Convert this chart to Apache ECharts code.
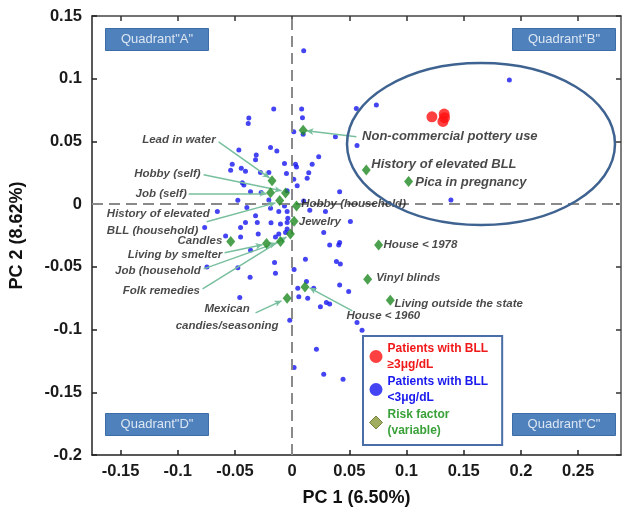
<!DOCTYPE html>
<html>
<head>
<meta charset="utf-8">
<script src="https://cdn.jsdelivr.net/npm/echarts@6/dist/echarts.min.js"></script>
<style>
html,body{margin:0;padding:0;background:#fff;}
#chart{width:629px;height:516px;}
</style>
</head>
<body>
<div id="chart"></div>
<script>
// ---- data ----
const xTicks = [-0.15, -0.1, -0.05, 0, 0.05, 0.1, 0.15, 0.2, 0.25];
const yTicks = [-0.2, -0.15, -0.1, -0.05, 0, 0.05, 0.1, 0.15];

const bluePoints = [
 [0.0101,0.1223],[0.1899,0.0989],[-0.0161,0.0758],[-0.0379,0.0686],[-0.0384,0.0643],
 [0.0083,0.0758],[0.0090,0.0688],[0.0561,0.0762],[0.0736,0.0790],[0.0014,0.0578],
 [0.0096,0.0558],[0.0378,0.0537],[0.0567,0.0467],[-0.0189,0.0451],[-0.0134,0.0423],
 [-0.0466,0.0431],[-0.0314,0.0391],[-0.0320,0.0353],[-0.0524,0.0319],[-0.0538,0.0271],
 [-0.0445,0.0287],[-0.0408,0.0263],[-0.0277,0.0252],[-0.0204,0.0252],[-0.0067,0.0324],
 [-0.0050,0.0244],[0.0029,0.0319],[0.0038,0.0297],[0.0232,0.0377],[0.0175,0.0319],
 [0.0145,0.0250],[0.0131,0.0207],[0.0014,0.0199],[0.0044,0.0146],[0.0415,0.0098],
 [-0.0436,0.0170],[-0.0422,0.0152],[-0.0364,0.0098],[-0.0271,0.0093],[-0.0044,0.0106],
 [-0.0475,0.0032],[-0.0204,0.0034],[0.1388,0.0034],[0.0101,0.0026],
 [-0.0396,-0.0027],[-0.0189,-0.0032],[-0.0117,-0.0059],[-0.0044,-0.0059],[-0.0654,-0.0059],
 [-0.0067,-0.0014],[0.0154,-0.0048],[0.0291,-0.0059],[-0.0320,-0.0093],[-0.0038,-0.0112],
 [-0.0408,-0.0147],[-0.0185,-0.0149],[-0.0102,-0.0159],[0.0509,-0.0139],[-0.0765,-0.0187],
 [-0.0305,-0.0147],[-0.0044,-0.0147],[-0.0451,-0.0187],[0.0276,-0.0226],[-0.0582,-0.0253],
 [-0.0451,-0.0261],[-0.0297,-0.0239],[-0.0146,-0.0261],[-0.0117,-0.0239],[-0.0058,-0.0226],
 [-0.0044,-0.0199],[0.0328,-0.0325],[0.0407,-0.0325],[0.0415,-0.0306],[-0.0364,-0.0367],
 [-0.0745,-0.0502],[-0.0475,-0.0508],[-0.0154,-0.0466],[-0.0146,-0.0550],[-0.0368,-0.0582],
 [0.0017,-0.0522],[0.0116,-0.0439],[0.0387,-0.0458],[0.0421,-0.0478],[0.0415,-0.0644],
 [0.0494,-0.0697],[0.0125,-0.0617],[0.0188,-0.0670],[0.0049,-0.0670],[0.0058,-0.0739],
 [0.0136,-0.0750],[-0.0458,-0.0745],[0.0247,-0.0819],[0.0299,-0.0785],[0.0328,-0.0797],
 [0.0567,-0.0944],[0.0611,-0.1005],[-0.0021,-0.0925],[0.0212,-0.1156],[0.0017,-0.1303],
 [0.0276,-0.1356],[0.0445,-0.1396]
];

const redPoints = [[0.1222,0.0696],[0.1329,0.0718],[0.1318,0.0659],[0.1332,0.0689]];

const riskNames = [
 'Non-commercial pottery use','History of elevated BLL','Pica in pregnancy','Hobby (household)',
 'Jewelry','House < 1978','Vinyl blinds','Living outside the state','House < 1960',
 'Mexican candies/seasoning','Lead in water','Hobby (self)','Job (self)',
 'History of elevated BLL (household)','Candles','Living by smelter','Job (household','Folk remedies'
];
const riskX = [0.0096,0.0648,0.1018,0.0038,0.0017,0.0756,0.0660,0.0858,0.0112,
               -0.0044,-0.0176,-0.0058,-0.0189,-0.0109,-0.0537,-0.0224,-0.0102,-0.0015];
const riskY = [0.0590,0.0273,0.0180,-0.0014,-0.0137,-0.0325,-0.0598,-0.0766,-0.0660,
               -0.0751,0.0186,0.0088,0.0090,0.0030,-0.0298,-0.0314,-0.0298,-0.0239];

const seriesNames = ['Patients with BLL\n≥3μg/dL','Patients with BLL\n<3μg/dL','Risk factor\n(variable)'];
const quadrantNames = ['Quadrant"A"','Quadrant"B"','Quadrant"C"','Quadrant"D"'];

// ---- annotation layout (label anchors and arrows, data units) ----
const bigLabel = {fontSize:13, fontWeight:'bold', fontStyle:'italic', fontFamily:'Liberation Sans, Arial, sans-serif', color:'#1a1a1a'};
const smallLabel = {fontSize:11.5, fontWeight:'bold', fontStyle:'italic', fontFamily:'Liberation Sans, Arial, sans-serif', color:'#1a1a1a'};
const annotations = [
 {text:'Non-commercial pottery use', at:[0.0611,0.0539], align:'left', big:true, arrow:[[0.0561,0.0537],[0.0125,0.0585]]},
 {text:'History of elevated BLL', at:[0.0692,0.0319], align:'left', big:true},
 {text:'Pica in pregnancy', at:[0.1076,0.0172], align:'left', big:true},
 {text:'Hobby (household)', at:[0.0079,0.0002], align:'left'},
 {text:'Jewelry', at:[0.0058,-0.0139], align:'left'},
 {text:'House < 1978', at:[0.0799,-0.0327], align:'left'},
 {text:'Vinyl blinds', at:[0.0736,-0.0590], align:'left'},
 {text:'Living outside the state', at:[0.0895,-0.0793], align:'left'},
 {text:'House < 1960', at:[0.0474,-0.0891], align:'left', arrow:[[0.0526,-0.0851],[0.0152,-0.0667]]},
 {text:'Mexican\ncandies/seasoning', at:[-0.0569,-0.0904], align:'center', arrow:[[-0.0320,-0.0867],[-0.0093,-0.0771]]},
 {text:'Lead in water', at:[-0.0669,0.0510], align:'right', arrow:[[-0.0643,0.0497],[-0.0198,0.0210]]},
 {text:'Hobby (self)', at:[-0.0800,0.0244], align:'right', arrow:[[-0.0774,0.0234],[-0.0093,0.0106]]},
 {text:'Job (self)', at:[-0.0922,0.0085], align:'right', arrow:[[-0.0905,0.0085],[-0.0224,0.0086]]},
 {text:'History of elevated\nBLL (household)', at:[-0.1620,-0.0144], align:'left', arrow:[[-0.0748,-0.0141],[-0.0146,0.0010]]},
 {text:'Candles', at:[-0.0611,-0.0293], align:'right'},
 {text:'Living by smelter', at:[-0.0611,-0.0404], align:'right', arrow:[[-0.0591,-0.0388],[-0.0259,-0.0324]]},
 {text:'Job (household', at:[-0.0800,-0.0532], align:'right', arrow:[[-0.0774,-0.0516],[-0.0137,-0.0309]]},
 {text:'Folk remedies', at:[-0.0806,-0.0691], align:'right', arrow:[[-0.0783,-0.0675],[-0.0050,-0.0261]]}
];

const fmt = v => String(Number(v.toFixed(2)));
const axisFont = {fontSize:16.5, fontWeight:'bold', fontFamily:'Liberation Sans, Arial, sans-serif', color:'#1a1a1a'};

const chart = echarts.init(document.getElementById('chart'), null, {renderer:'canvas'});

const labelData = annotations.map(a => ({
  value: a.at, name: a.text,
  label: Object.assign({show:true, position:[0,0], align:a.align, verticalAlign:'middle',
          lineHeight: 17.5, formatter: a.text}, a.big ? bigLabel : smallLabel)
}));
const arrowData = annotations.filter(a => a.arrow).map(a => [{coord:a.arrow[0]},{coord:a.arrow[1]}]);

const quadBox = (txt, x, y) => ({
  type:'group', left:x, top:y, children:[
    {type:'rect', shape:{x:0,y:0,width:103,height:22}, style:{fill:'#4f81bd', stroke:'#3d6da6', lineWidth:1}},
    {type:'text', x:51.5, y:11, style:{text:txt, fill:'#dce6f2', font:'13px Liberation Sans, Arial, sans-serif', align:'center', verticalAlign:'middle'}}
  ]});

chart.setOption({
  animation:false,
  grid:{left:92, right:8, top:16, bottom:61, containLabel:false, outerBoundsMode:'none'},
  xAxis:[{
    type:'value', min:-0.175, max:0.2875, position:'bottom',
    name:'PC 1 (6.50%)', nameLocation:'middle', nameGap:34,
    nameTextStyle:{fontSize:18, fontWeight:'bold', fontFamily:'Liberation Sans, Arial, sans-serif', color:'#111'},
    axisLine:{onZero:false, lineStyle:{color:'#222', width:1.5}},
    axisTick:{inside:true, length:5, customValues:xTicks, lineStyle:{color:'#222', width:1.5}},
    axisLabel:Object.assign({customValues:xTicks, margin:8, formatter:fmt}, axisFont),
    splitLine:{show:false}
  },{
    type:'value', min:-0.175, max:0.2875, position:'top',
    axisLine:{onZero:false, lineStyle:{color:'#444', width:1.5}},
    axisTick:{inside:true, length:5, customValues:xTicks, lineStyle:{color:'#333', width:1.5}},
    axisLabel:{show:false}, splitLine:{show:false}
  }],
  yAxis:[{
    type:'value', min:-0.2, max:0.15, interval:0.05, position:'left',
    name:'PC 2 (8.62%)', nameLocation:'middle', nameGap:66,
    nameTextStyle:{fontSize:18, fontWeight:'bold', fontFamily:'Liberation Sans, Arial, sans-serif', color:'#111'},
    axisLine:{onZero:false, lineStyle:{color:'#222', width:1.5}},
    axisTick:{inside:true, length:5, lineStyle:{color:'#222', width:1.5}},
    axisLabel:Object.assign({margin:10, formatter:fmt}, axisFont),
    splitLine:{show:false}
  },{
    type:'value', min:-0.2, max:0.15, interval:0.05, position:'right',
    axisLine:{onZero:false, lineStyle:{color:'#555', width:1.5}},
    axisTick:{inside:true, length:5, lineStyle:{color:'#333', width:1.5}},
    axisLabel:{show:false}, splitLine:{show:false}
  }],
  legend:{
    orient:'vertical', left:363, top:336,
    padding:[4,14,6,6], itemGap:0, itemWidth:13, itemHeight:13,
    borderColor:'#4a6ea8', borderWidth:2, backgroundColor:'#fff',
    textStyle:{fontSize:12, fontWeight:'bold', fontFamily:'Liberation Sans, Arial, sans-serif', lineHeight:16.5},
    data:[
      {name:seriesNames[0], icon:'circle', textStyle:{color:'#f01818'}},
      {name:seriesNames[1], icon:'circle', textStyle:{color:'#1a1aee'}},
      {name:seriesNames[2], icon:'diamond', itemStyle:{color:'#8a9a3a', borderColor:'#5f6e24', borderWidth:1}, textStyle:{color:'#3aa13a'}}
    ]
  },
  graphic:[
    quadBox(quadrantNames[0], 105, 28),
    quadBox(quadrantNames[1], 512, 28),
    quadBox(quadrantNames[2], 512, 413),
    quadBox(quadrantNames[3], 105, 413),
    {type:'ellipse', shape:{cx:481, cy:144, rx:134, ry:81}, style:{fill:'none', stroke:'#3f6391', lineWidth:2.5}, z:100}
  ],
  series:[
    {
      name:seriesNames[1], type:'scatter', data:bluePoints, symbol:'circle', symbolSize:5,
      itemStyle:{color:'#1515f0'}, z:3,
      markLine:{silent:true, symbol:['none','none'], label:{show:false},
        lineStyle:{type:[11,6], color:'#8a8a8a', width:2},
        data:[{xAxis:0},{yAxis:0}]}
    },
    {
      name:seriesNames[0], type:'scatter', data:redPoints, symbol:'circle', symbolSize:11,
      itemStyle:{color:'#ff1010'}, z:4
    },
    {
      name:seriesNames[2], type:'scatter', symbol:'diamond', symbolSize:[9,11],
      data:riskNames.map((n,i)=>({name:n, value:[riskX[i], riskY[i]]})),
      itemStyle:{color:'#1f8a22'}, z:5
    },
    {
      name:'annotations', type:'scatter', symbolSize:0, silent:true, z:6,
      data:labelData,
      markLine:{silent:true, symbol:['none','arrow'], symbolSize:[5,7], label:{show:false},
        lineStyle:{type:'solid', color:'#78bf9e', width:1.5},
        data:arrowData}
    }
  ]
});
</script>
</body>
</html>
